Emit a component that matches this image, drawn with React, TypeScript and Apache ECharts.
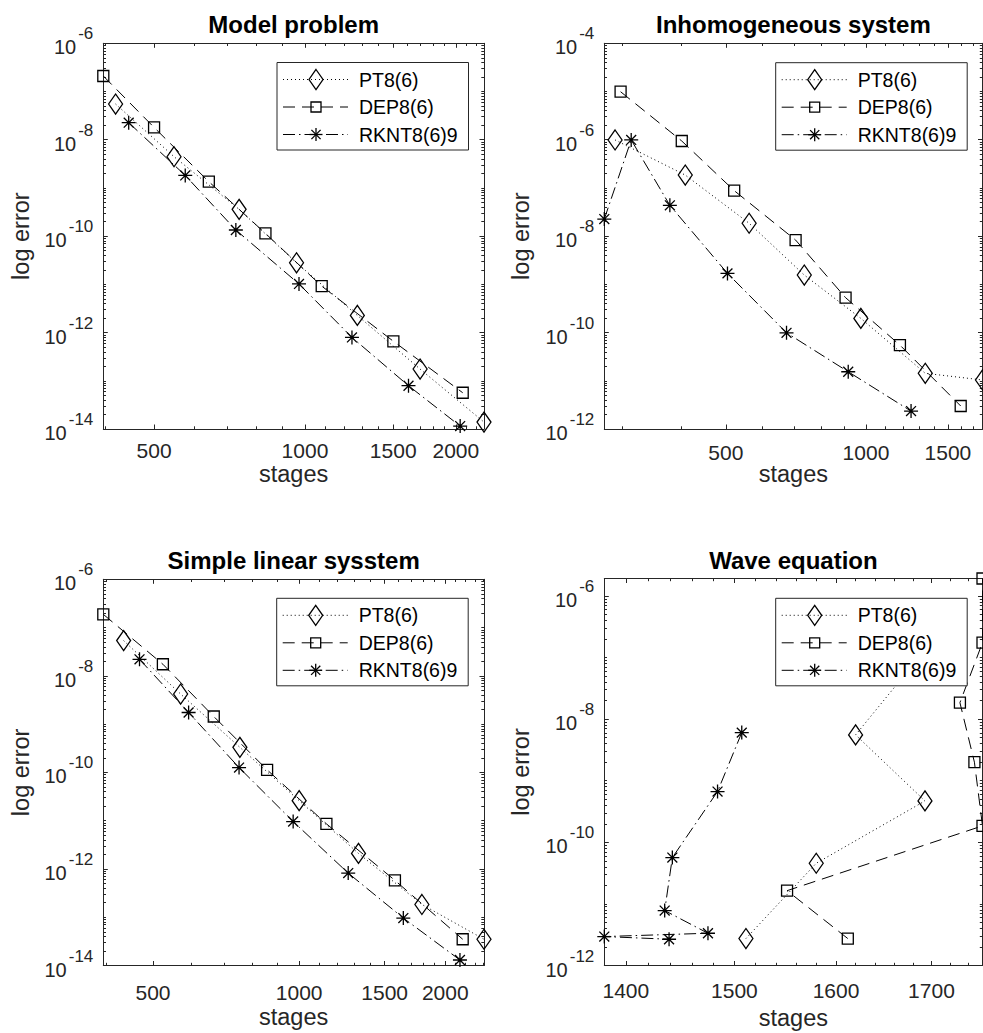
import React, { useEffect, useRef } from "react";
import * as echarts from "echarts";

const FONT = '"Liberation Sans", Arial, Helvetica, sans-serif';
const AX = "#262626";

const titles = ["Model problem", "Inhomogeneous system", "Simple linear sysstem", "Wave equation"];
const seriesNames = ["PT8(6)", "DEP8(6)", "RKNT8(6)9"];
const xAxisName = "stages";
const yAxisName = "log error";

// ---- Model problem ----
const modelPTStages = [419, 548, 739, 962, 1272, 1697, 2276];
const modelPTError = [5.5e-8, 4.45e-9, 3.6e-10, 2.8e-11, 2.27e-12, 1.75e-13, 1.39e-14];
const modelDEPStages = [396, 500, 643, 834, 1080, 1501, 2064];
const modelDEPError = [2.1e-7, 1.8e-8, 1.35e-9, 1.14e-10, 9.2e-12, 6.6e-13, 5.65e-14];
const modelRKNTStages = [445, 577, 728, 973, 1241, 1609, 2040];
const modelRKNTError = [2.26e-8, 1.82e-9, 1.34e-10, 1.02e-11, 7.94e-13, 7.9e-14, 1.15e-14];

// ---- Inhomogeneous system ----
const inhomPTStages = [289, 409, 561, 737, 975, 1341, 1780];
const inhomPTError = [9.9e-7, 1.85e-7, 1.85e-8, 1.56e-9, 1.97e-10, 1.43e-11, 1.04e-11];
const inhomDEPStages = [297, 402, 521, 706, 904, 1183, 1598];
const inhomDEPError = [9.9e-6, 9.4e-7, 8.8e-8, 8.3e-9, 5.3e-10, 5.5e-11, 3.0e-12];
const inhomRKNTStages = [274, 313, 379, 504, 675, 916, 1250];
const inhomRKNTError = [2.26e-8, 9.9e-7, 4.36e-8, 1.69e-9, 9.9e-11, 1.54e-11, 2.35e-12];

// ---- Simple linear sysstem ----
const linPTStages = [435, 570, 755, 1000, 1325, 1790, 2403];
const linPTError = [5.37e-8, 4.2e-9, 3.3e-10, 2.6e-11, 2.1e-12, 1.84e-13, 3.5e-14];
const linDEPStages = [395, 524, 667, 859, 1138, 1575, 2172];
const linDEPError = [1.88e-7, 1.74e-8, 1.44e-9, 1.13e-10, 8.6e-12, 5.8e-13, 3.5e-14];
const linRKNTStages = [469, 592, 752, 972, 1262, 1639, 2144];
const linRKNTError = [2.2e-8, 1.74e-9, 1.26e-10, 9.6e-12, 8.2e-13, 9.6e-14, 1.3e-14];

// ---- Wave equation ----
const wavePTStages = [1511, 1580, 1693, 1620, 1690];
const wavePTError = [2.74e-12, 4.57e-11, 4.7e-10, 5.55e-9, 1.17e-7];
const waveDEPStages = [1612, 1551, 1756, 1747, 1731, 1756, 1756];
const waveDEPError = [2.74e-12, 1.64e-11, 1.85e-10, 2.0e-9, 1.85e-8, 1.75e-7, 1.92e-6];
const waveRKNTStages = [1507, 1484, 1442, 1435, 1475, 1381, 1439];
const waveRKNTError = [6.04e-9, 6.67e-10, 5.65e-11, 7.8e-12, 3.34e-12, 2.95e-12, 2.67e-12];

// ---- axes ----
const xTickLabels = [
  [500, 1000, 1500, 2000],
  [500, 1000, 1500],
  [500, 1000, 1500, 2000],
  [1400, 1500, 1600, 1700],
];
const xMinorStep = [100, 100, 100, 20];
const xLimits = [
  [396, 2276],
  [274, 1780],
  [395, 2403],
  [1381, 1756],
];
const yLimits = [
  [1e-14, 1e-6],
  [1e-12, 1e-4],
  [1e-14, 1e-6],
  [1e-12, 1.92e-6],
];
const yTickExponents = [
  [-14, -12, -10, -8, -6],
  [-12, -10, -8, -6, -4],
  [-14, -12, -10, -8, -6],
  [-12, -10, -8, -6],
];

const panelData = [
  [
    [modelPTStages, modelPTError],
    [modelDEPStages, modelDEPError],
    [modelRKNTStages, modelRKNTError],
  ],
  [
    [inhomPTStages, inhomPTError],
    [inhomDEPStages, inhomDEPError],
    [inhomRKNTStages, inhomRKNTError],
  ],
  [
    [linPTStages, linPTError],
    [linDEPStages, linDEPError],
    [linRKNTStages, linRKNTError],
  ],
  [
    [wavePTStages, wavePTError],
    [waveDEPStages, waveDEPError],
    [waveRKNTStages, waveRKNTError],
  ],
];

// ---- layout (pixels) ----
const panelBoxes = [
  { left: 103.3, top: 43.3, width: 380.7, height: 385.7 },
  { left: 604.3, top: 43.3, width: 378.2, height: 385.7 },
  { left: 103.3, top: 579.3, width: 380.7, height: 386.2 },
  { left: 604.3, top: 578.5, width: 378.2, height: 387 },
];
const xLabelLineHeight = [45, 49, 56, 51];
const xNameGap = [33, 32.5, 39.5, 40.5];
const yNameGap = [70.5, 71.5, 70.5, 71.5];
const titleTop = [12, 12, 548.8, 548.8];
const legendPos = [
  [277, 62.5],
  [775.7, 62.7],
  [276.7, 598.3],
  [775.7, 598.3],
];

const dashes = [
  [1, 3],
  [12, 7],
  [12, 4, 1.5, 4],
];
const STAR_PATH =
  "path://M10,0L10,20M0,10L20,10M2.93,2.93L17.07,17.07M2.93,17.07L17.07,2.93";
const symbols = ["diamond", "rect", STAR_PATH];
const symbolSizes: any[] = [[14, 20], 11, 14];

const L = Math.log10;

function buildOption() {
  const grid: any[] = [];
  const xAxis: any[] = [];
  const yAxis: any[] = [];
  const series: any[] = [];
  const title: any[] = [];
  const graphic: any[] = [];

  for (let p = 0; p < 4; p++) {
    const b = panelBoxes[p];
    grid.push({ ...b, containLabel: false, outerBoundsMode: "none" });
    const xmin = L(xLimits[p][0]);
    const xmax = L(xLimits[p][1]);
    const ymin = L(yLimits[p][0]);
    const ymax = L(yLimits[p][1]);
    const xMajor = xTickLabels[p].map(L);
    const step = xMinorStep[p];
    const xMinor: number[] = [];
    for (let v = Math.ceil(xLimits[p][0] / step) * step; v <= xLimits[p][1]; v += step) {
      if (xTickLabels[p].indexOf(v) < 0) xMinor.push(L(v));
    }
    const yMajor = yTickExponents[p].slice();
    const yMinor: number[] = [];
    for (let n = Math.floor(ymin); n <= Math.ceil(ymax); n++) {
      for (let k = 1; k <= 9; k++) {
        const v = n + L(k);
        if (v < ymin - 1e-9 || v > ymax + 1e-9) continue;
        if (k === 1 && yMajor.indexOf(n) >= 0) continue;
        yMinor.push(v);
      }
    }

    const lineStyle = { color: AX, width: 1 };
    const baseAxis = {
      type: "value",
      gridIndex: p,
      splitLine: { show: false },
      silent: true,
    };
    const xi = xAxis.length;
    xAxis.push({
      ...baseAxis,
      position: "bottom",
      min: xmin,
      max: xmax,
      axisLine: { show: true, onZero: false, lineStyle },
      axisTick: { show: true, inside: true, length: 4.5, customValues: xMajor, lineStyle },
      axisLabel: {
        show: true,
        customValues: xMajor,
        formatter: (v: number) => String(Math.round(Math.pow(10, v))),
        margin: -1,
        lineHeight: xLabelLineHeight[p],
        verticalAlign: "top",
        fontSize: 21,
        fontFamily: FONT,
        color: AX,
      },
      name: xAxisName,
      nameLocation: "middle",
      nameGap: xNameGap[p],
      nameMoveOverlap: false,
      nameTextStyle: { fontSize: 23.5, fontFamily: FONT, color: AX },
    });
    xAxis.push({
      ...baseAxis,
      position: "bottom",
      min: xmin,
      max: xmax,
      axisLine: { show: false, onZero: false },
      axisTick: { show: true, inside: true, length: 2.7, customValues: xMinor, lineStyle },
      axisLabel: { show: false },
    });
    xAxis.push({
      ...baseAxis,
      position: "top",
      min: xmin,
      max: xmax,
      axisLine: { show: true, onZero: false, lineStyle },
      axisTick: { show: true, inside: true, length: 4.5, customValues: xMajor, lineStyle },
      axisLabel: { show: false },
    });
    xAxis.push({
      ...baseAxis,
      position: "top",
      min: xmin,
      max: xmax,
      axisLine: { show: false, onZero: false },
      axisTick: { show: true, inside: true, length: 2.7, customValues: xMinor, lineStyle },
      axisLabel: { show: false },
    });

    const yi = yAxis.length;
    yAxis.push({
      ...baseAxis,
      position: "left",
      min: ymin,
      max: ymax,
      axisLine: { show: true, onZero: false, lineStyle },
      axisTick: { show: true, inside: true, length: 4.5, customValues: yMajor, lineStyle },
      axisLabel: {
        show: true,
        customValues: yMajor,
        formatter: (v: number) => `{b|10}{e|${Math.round(v)}}`,
        margin: -6,
        padding: [0, 16, 4, 0],
        rich: {
          b: { fontSize: 20, fontFamily: FONT, color: AX, lineHeight: 32, verticalAlign: "bottom" },
          e: {
            fontSize: 17,
            fontFamily: FONT,
            color: AX,
            lineHeight: 17,
            verticalAlign: "top",
            padding: [0, 0, 0, 2],
          },
        },
      },
      name: yAxisName,
      nameLocation: "middle",
      nameGap: yNameGap[p],
      nameMoveOverlap: false,
      nameTextStyle: { fontSize: 23.5, fontFamily: FONT, color: AX },
    });
    yAxis.push({
      ...baseAxis,
      position: "left",
      min: ymin,
      max: ymax,
      axisLine: { show: false, onZero: false },
      axisTick: { show: true, inside: true, length: 2.7, customValues: yMinor, lineStyle },
      axisLabel: { show: false },
    });
    yAxis.push({
      ...baseAxis,
      position: "right",
      min: ymin,
      max: ymax,
      axisLine: { show: true, onZero: false, lineStyle },
      axisTick: { show: true, inside: true, length: 4.5, customValues: yMajor, lineStyle },
      axisLabel: { show: false },
    });
    yAxis.push({
      ...baseAxis,
      position: "right",
      min: ymin,
      max: ymax,
      axisLine: { show: false, onZero: false },
      axisTick: { show: true, inside: true, length: 2.7, customValues: yMinor, lineStyle },
      axisLabel: { show: false },
    });

    for (let s = 0; s < 3; s++) {
      const [xs, ys] = panelData[p][s];
      series.push({
        type: "line",
        name: seriesNames[s],
        xAxisIndex: xi,
        yAxisIndex: yi,
        data: xs.map((x: number, i: number) => [L(x), L(ys[i])]),
        clip: false,
        silent: true,
        symbol: symbols[s],
        symbolSize: symbolSizes[s],
        showSymbol: true,
        showAllSymbol: true,
        lineStyle: { color: "#000", width: 1, type: dashes[s] },
        itemStyle: { color: "rgba(0,0,0,0)", borderColor: "#000", borderWidth: 1.3 },
        emphasis: { disabled: true },
        z: 3,
      });
    }

    title.push({
      text: titles[p],
      left: b.left + b.width / 2,
      top: titleTop[p],
      textAlign: "center",
      padding: 0,
      textStyle: { fontSize: 24, fontWeight: "bold", fontFamily: FONT, color: "#000" },
    });

    // legend box (MATLAB style)
    const [lx, ly] = legendPos[p];
    const W = 191.5;
    const H = 87.5;
    const rows = [17, 44.5, 72];
    graphic.push({
      type: "rect",
      z: 100,
      shape: { x: lx, y: ly, width: W, height: H },
      style: { fill: "#fff", stroke: AX, lineWidth: 1 },
    });
    rows.forEach((dy, i) => {
      const y = ly + dy;
      const cx = lx + 39;
      graphic.push({
        type: "line",
        z: 101,
        shape: { x1: lx + 6, y1: y, x2: lx + 71, y2: y },
        style: { stroke: "#000", lineWidth: 1, lineDash: dashes[i] },
      });
      if (i === 0) {
        graphic.push({
          type: "polygon",
          z: 102,
          shape: { points: [[cx, y - 10], [cx + 7, y], [cx, y + 10], [cx - 7, y]] },
          style: { fill: "none", stroke: "#000", lineWidth: 1.3 },
        });
      } else if (i === 1) {
        graphic.push({
          type: "rect",
          z: 102,
          shape: { x: cx - 5, y: y - 5, width: 10, height: 10 },
          style: { fill: "none", stroke: "#000", lineWidth: 1.3 },
        });
      } else {
        const r = 6.5;
        const d = r * 0.7071;
        const segs = [
          [cx, y - r, cx, y + r],
          [cx - r, y, cx + r, y],
          [cx - d, y - d, cx + d, y + d],
          [cx - d, y + d, cx + d, y - d],
        ];
        segs.forEach((sg) => {
          graphic.push({
            type: "line",
            z: 102,
            shape: { x1: sg[0], y1: sg[1], x2: sg[2], y2: sg[3] },
            style: { stroke: "#000", lineWidth: 1.3 },
          });
        });
      }
      graphic.push({
        type: "text",
        z: 102,
        x: lx + 82,
        y,
        style: {
          text: seriesNames[i],
          fontSize: 19.5,
          fontFamily: FONT,
          fill: "#000",
          align: "left",
          verticalAlign: "middle",
        },
      });
    });
  }

  return {
    animation: false,
    backgroundColor: "#fff",
    title,
    grid,
    xAxis,
    yAxis,
    series,
    graphic,
    tooltip: { show: false },
  };
}

export default function App() {
  const ref = useRef<HTMLDivElement>(null);
  useEffect(() => {
    document.body.style.margin = "0";
    if (!ref.current) return;
    const chart = echarts.init(ref.current, null, { renderer: "svg" });
    chart.setOption(buildOption() as any);
    return () => chart.dispose();
  }, []);
  return (
    <div style={{ position: "fixed", left: 0, top: 0, width: 983, height: 1033, overflow: "hidden", background: "#fff" }}>
      <div ref={ref} style={{ width: 983, height: 1033 }} />
    </div>
  );
}
